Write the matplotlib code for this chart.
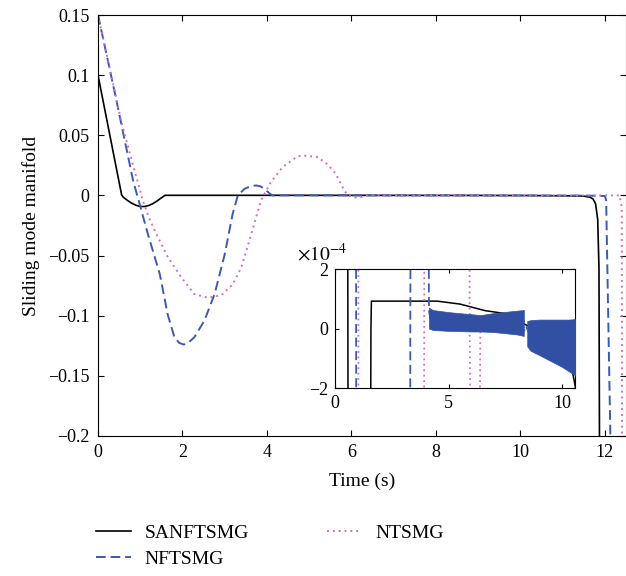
import numpy as np
import matplotlib
matplotlib.use('Agg')
import matplotlib.pyplot as plt

plt.rcParams['font.family'] = ['Liberation Serif', 'DejaVu Serif']
plt.rcParams['mathtext.fontset'] = 'stix'

# sliding manifold traces (time in s, value)
t_sanftsmg = [0, 0.56, 0.6, 0.7, 0.8, 0.9, 1.0, 1.1, 1.2, 1.3, 1.4, 1.5, 1.56, 1.58, 1.6,
              4.5, 5.5, 6.6, 7.5, 8.4, 8.8, 9.5, 10.2, 10.45, 10.6, 11.0, 11.3, 11.5,
              11.65, 11.72, 11.78, 11.83, 11.86, 11.88]
s_sanftsmg = [0.1, 0.0003, -0.0015, -0.0042, -0.0065, -0.0082, -0.0092, -0.0092, -0.0084,
              -0.0068, -0.0046, -0.002, -0.0006, 0.0, 9.2e-5,
              9.2e-5, 8.2e-5, 6.0e-5, 5.0e-5, 1.2e-5, -2e-6, -4.5e-5, -9.5e-5, -1.5e-4,
              -2.1e-4, -3e-4, -4e-4, -6e-4, -1.5e-3, -3e-3, -7e-3, -2e-2, -6e-2, -0.3]

t_nftsmg = [0, 0.4, 0.83, 0.96, 1.18, 1.46, 1.65, 1.81, 1.92, 2.03, 2.15, 2.28, 2.52, 2.76,
            3.0, 3.19, 3.31, 3.47, 3.6, 3.74, 3.85, 3.94, 4.05, 4.13, 4.2, 8.3, 8.5,
            10.5, 11.5, 12.0, 12.03, 12.13, 12.15]
s_nftsmg = [0.15, 0.085, 0.0125, -0.004, -0.032, -0.065, -0.099, -0.118, -0.1225, -0.124,
            -0.122, -0.118, -0.104, -0.082, -0.049, -0.015, 0.0, 0.0055, 0.0075, 0.0083,
            0.0075, 0.0055, 0.002, 6e-5, 3e-5, 2.5e-5, -1e-5,
            -5e-5, -1e-4, -5e-4, -0.004, -0.2, -0.3]

t_ntsmg = [0, 0.3, 0.56, 0.8, 0.95, 1.06, 1.2, 1.38, 1.65, 1.97, 2.28, 2.6, 2.92, 3.19,
           3.39, 3.63, 3.86, 4.09, 4.37, 4.72, 4.89, 5.19, 5.43, 5.63, 5.83, 5.92, 6.05,
           6.14, 6.3, 6.39, 6.45, 12.35, 12.4, 12.41]
s_ntsmg = [0.15, 0.102, 0.06, 0.029, 0.01, -0.004, -0.018, -0.032, -0.051, -0.068, -0.082,
           -0.085, -0.083, -0.074, -0.06, -0.032, -0.004, 0.011, 0.0236, 0.0325, 0.033,
           0.032, 0.026, 0.018, 0.004, 0.0, -0.0015, -0.002, -0.001, 0.0, -5e-6, -5e-6,
           -0.01, -0.3]

# chattering envelope of NFTSMG near the manifold
band1_t = [4.13, 4.3, 5.0, 6.0, 6.4, 7.0, 8.0, 8.3]
band1_hi = [0.70e-4, 0.62e-4, 0.55e-4, 0.48e-4, 0.45e-4, 0.52e-4, 0.60e-4, 0.62e-4]
band1_lo = [0.0, -0.05e-4, -0.08e-4, -0.10e-4, -0.10e-4, -0.12e-4, -0.20e-4, -0.25e-4]
band2_t = [8.45, 8.6, 9.0, 9.5, 10.0, 10.3, 10.6]
band2_hi = [0.25e-4, 0.28e-4, 0.30e-4, 0.30e-4, 0.30e-4, 0.30e-4, 0.32e-4]
band2_lo = [-0.6e-4, -0.75e-4, -0.9e-4, -1.1e-4, -1.3e-4, -1.45e-4, -1.6e-4]

yticks = [0.15, 0.1, 0.05, 0, -0.05, -0.1, -0.15, -0.2]
ytick_labels = ['0.15', '0.1', '0.05', '0', '\u22120.05', '\u22120.1', '\u22120.15', '\u22120.2']

black = 'black'
blue = '#3a5bb0'
pink = '#d46cc6'
band_col = '#3150a3'

fig = plt.figure(figsize=(6.26, 5.76), dpi=100)
ax = fig.add_axes([98 / 626, 1 - 436 / 576, 528 / 626, 421 / 576])

l1, = ax.plot(t_sanftsmg, s_sanftsmg, color=black, lw=1.2, label='SANFTSMG')
l2, = ax.plot(t_nftsmg, s_nftsmg, color=blue, lw=1.4, dashes=(5, 2.5), label='NFTSMG')
l3, = ax.plot(t_ntsmg, s_ntsmg, color=pink, lw=1.4, dashes=(1, 2), label='NTSMG')

ax.set_xlim(0, 12.5)
ax.set_ylim(-0.2, 0.15)
ax.set_xticks([0, 2, 4, 6, 8, 10, 12])
ax.set_yticks(yticks)
ax.set_yticklabels(ytick_labels)
ax.tick_params(direction='in', top=True, right=True, length=4, labelsize=13, pad=6)
ax.set_xlabel('Time (s)', fontsize=14, labelpad=8)
ax.set_ylabel('Sliding mode manifold', fontsize=14, labelpad=6)

# zoomed view around s = 0
axins = fig.add_axes([335 / 626, 1 - 388 / 576, 240 / 626, 119 / 576])
axins.plot(t_sanftsmg, s_sanftsmg, color=black, lw=1.1, zorder=2)
axins.plot(t_nftsmg, s_nftsmg, color=blue, lw=1.3, dashes=(5, 2.5), zorder=3)
axins.plot(t_ntsmg, s_ntsmg, color=pink, lw=1.3, dashes=(1, 2), zorder=3)
axins.fill_between(band1_t, band1_lo, band1_hi, color=band_col, lw=0.5, zorder=4)
axins.fill_between(band2_t, band2_lo, band2_hi, color=band_col, lw=0.5, zorder=4)
axins.set_xlim(0, 10.55)
axins.set_ylim(-2e-4, 2e-4)
axins.set_xticks([0, 5, 10])
axins.set_yticks([-2e-4, 0, 2e-4])
axins.set_yticklabels(['\u22122', '0', '2'])
axins.tick_params(direction='in', top=True, right=True, length=3, labelsize=13, pad=5)
axins.text(-0.16, 1.04, r'$\times10^{-4}$', transform=axins.transAxes, fontsize=14,
           ha='left', va='bottom')

fig.legend(handles=[l1, l2, l3], ncol=2, loc='upper left',
           bbox_to_anchor=(96 / 626, 1 - 524 / 576), frameon=False, fontsize=14,
           borderpad=0, borderaxespad=0, handlelength=1.8, handletextpad=0.7,
           columnspacing=4.0, labelspacing=0.45)

fig.savefig('out.png', dpi=100)
